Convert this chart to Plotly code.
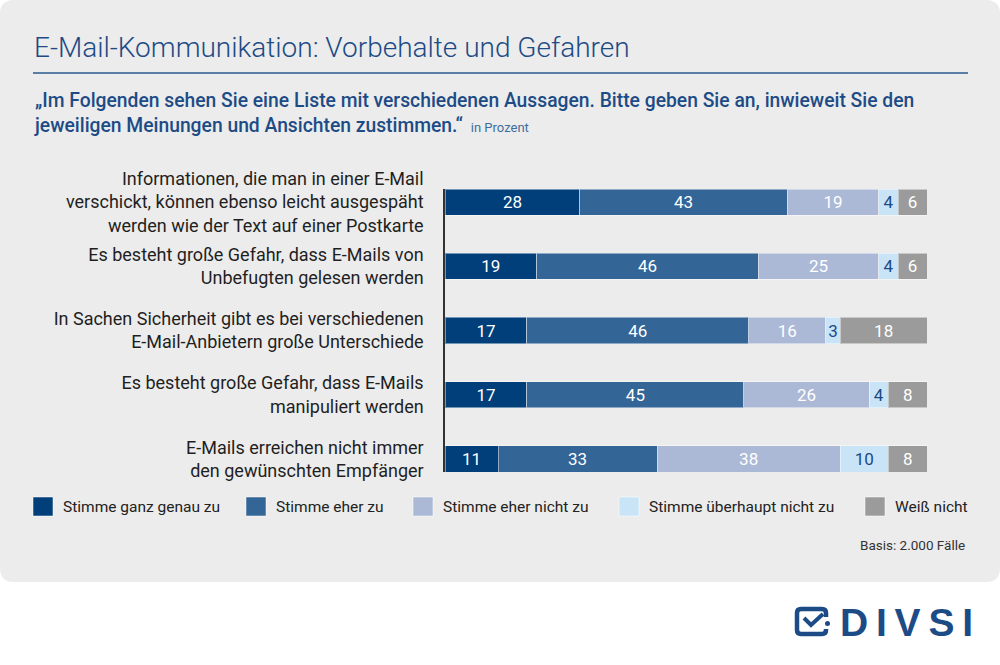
import plotly.graph_objects as go

# Daten
statements = [
    "Informationen, die man in einer E-Mail<br>verschickt, können ebenso leicht ausgespäht<br>werden wie der Text auf einer Postkarte",
    "Es besteht große Gefahr, dass E-Mails von<br>Unbefugten gelesen werden",
    "In Sachen Sicherheit gibt es bei verschiedenen<br>E-Mail-Anbietern große Unterschiede",
    "Es besteht große Gefahr, dass E-Mails<br>manipuliert werden",
    "E-Mails erreichen nicht immer<br>den gewünschten Empfänger",
]
answers = ["Stimme ganz genau zu", "Stimme eher zu", "Stimme eher nicht zu",
           "Stimme überhaupt nicht zu", "Weiß nicht"]
ganz_genau = [28, 19, 17, 17, 11]
eher_zu = [43, 46, 46, 45, 33]
eher_nicht = [19, 25, 16, 26, 38]
ueberhaupt_nicht = [4, 4, 3, 4, 10]
weiss_nicht = [6, 6, 18, 8, 8]

series = [ganz_genau, eher_zu, eher_nicht, ueberhaupt_nicht, weiss_nicht]
colors = ["#003f7a", "#336597", "#abb8d6", "#c9e4f7", "#9b9b9b"]
text_colors = ["white", "white", "white", "#1d4a85", "white"]

FONT = "Roboto, Arial, sans-serif"
BLUE = "#1d4b86"

# Seitengeometrie (Pixel)
W, H = 1000, 665
ML, MR, MT, MB = 445, 73, 189, 193
PW, PH = W - ML - MR, H - MT - MB


def px(x):
    return (x - ML) / PW


def py(y):
    return 1 - (y - MT) / PH


fig = go.Figure()
for vals, name, col, tcol in zip(series, answers, colors, text_colors):
    fig.add_trace(go.Bar(
        y=statements, x=vals, name=name, orientation="h",
        width=0.407,
        marker=dict(color=col, line=dict(color="rgba(255,255,255,0.45)", width=1)),
        text=vals, textposition="inside", insidetextanchor="middle",
        constraintext="none", textangle=0,
        textfont=dict(family=FONT, size=17, color=tcol),
        hoverinfo="skip",
    ))

shapes = []
annotations = []

# grauer Hintergrund mit runden Ecken
r = 14
x0, y0, x1, y1 = 0, 0, 1000, 582
path = (f"M {px(x0 + r)} {py(y0)} L {px(x1 - r)} {py(y0)} Q {px(x1)} {py(y0)} {px(x1)} {py(y0 + r)} "
        f"L {px(x1)} {py(y1 - r)} Q {px(x1)} {py(y1)} {px(x1 - r)} {py(y1)} "
        f"L {px(x0 + r)} {py(y1)} Q {px(x0)} {py(y1)} {px(x0)} {py(y1 - r)} "
        f"L {px(x0)} {py(y0 + r)} Q {px(x0)} {py(y0)} {px(x0 + r)} {py(y0)} Z")
shapes.append(dict(type="path", xref="paper", yref="paper", path=path,
                   fillcolor="#ececec", line=dict(width=0), layer="below"))

# Linie unter Titel
shapes.append(dict(type="line", xref="paper", yref="paper", x0=px(33), x1=px(968),
                   y0=py(73), y1=py(73), line=dict(color="#2b5a90", width=1.5)))

# Titel + Frage
annotations.append(dict(text="E-Mail-Kommunikation: Vorbehalte und Gefahren",
                        x=px(32), y=py(47), xref="paper", yref="paper",
                        xanchor="left", yanchor="middle", showarrow=False,
                        font=dict(family=FONT, size=28, color=BLUE, weight=300)))
annotations.append(dict(
    text="„Im Folgenden sehen Sie eine Liste mit verschiedenen Aussagen. Bitte geben Sie an, inwieweit Sie den<br>"
         "jeweiligen Meinungen und Ansichten zustimmen.“ "
         "<span style='font-size:13px;font-weight:400;color:#3f6c9e'> in Prozent</span>",
    x=px(32), y=py(87), xref="paper", yref="paper", xanchor="left", yanchor="top",
    align="left", showarrow=False,
    font=dict(family=FONT, size=19.3, color=BLUE, weight=500)))

# Legende (manuell, Quadrate wie im Original)
leg_x = [33, 246, 413, 619, 865]
for lx, name, col in zip(leg_x, answers, colors):
    shapes.append(dict(type="rect", xref="paper", yref="paper",
                       x0=px(lx), x1=px(lx + 20), y0=py(497), y1=py(516),
                       fillcolor=col, line=dict(color="rgba(255,255,255,0.5)", width=1)))
    annotations.append(dict(text=name, x=px(lx + 28), y=py(507), xref="paper", yref="paper",
                            xanchor="left", yanchor="middle", showarrow=False,
                            font=dict(family=FONT, size=15.5, color="#222222")))

annotations.append(dict(text="Basis: 2.000 Fälle", x=px(967), y=py(545), xref="paper", yref="paper",
                        xanchor="right", yanchor="middle", showarrow=False,
                        font=dict(family=FONT, size=13.5, color="#333333")))

# DIVSI Logo
icon = (f"M {px(826)} {py(617)} L {px(826)} {py(613)} Q {px(826)} {py(609)} {px(822)} {py(609)} "
        f"L {px(801)} {py(609)} Q {px(797)} {py(609)} {px(797)} {py(613)} "
        f"L {px(797)} {py(630)} Q {px(797)} {py(634)} {px(801)} {py(634)} "
        f"L {px(822)} {py(634)} Q {px(826)} {py(634)} {px(826)} {py(630)} L {px(826)} {py(629)}")
shapes.append(dict(type="path", xref="paper", yref="paper", path=icon,
                   line=dict(color=BLUE, width=4.5)))
shapes.append(dict(type="path", xref="paper", yref="paper",
                   path=f"M {px(804)} {py(618)} L {px(811)} {py(625)} L {px(823)} {py(614)}",
                   line=dict(color=BLUE, width=4)))
shapes.append(dict(type="circle", xref="paper", yref="paper",
                   x0=px(825), x1=px(830), y0=py(621), y1=py(626),
                   fillcolor=BLUE, line=dict(width=0)))
annotations.append(dict(text="<b>D\u2009I\u2009V\u2009S\u2009I</b>", x=px(975), y=py(622),
                        xref="paper", yref="paper", xanchor="right", yanchor="middle",
                        showarrow=False,
                        font=dict(family="Liberation Sans, Arial, sans-serif", size=39, color=BLUE)))

fig.update_layout(
    width=W, height=H,
    margin=dict(l=ML, r=MR, t=MT, b=MB, pad=0),
    barmode="stack",
    showlegend=False,
    paper_bgcolor="white",
    plot_bgcolor="rgba(0,0,0,0)",
    shapes=shapes,
    annotations=annotations,
    xaxis=dict(range=[0, 100], visible=False, fixedrange=True),
    yaxis=dict(type="category", categoryorder="array", categoryarray=statements,
               range=[4.2035, -0.2035], autorange=False, fixedrange=True,
               showline=True, linecolor="#333333", linewidth=1.5,
               showgrid=False, zeroline=False, ticks="",
               ticklabelstandoff=16,
               tickfont=dict(family=FONT, size=18, color="#1f1f1f")),
)

fig.write_html("out.html", config={"displayModeBar": False},
               post_script="document.body.style.margin='0';")
